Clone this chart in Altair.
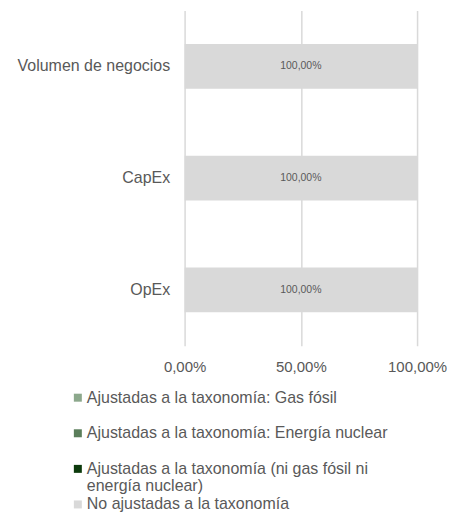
import altair as alt
import pandas as pd

metrics = ["Volumen de negocios", "CapEx", "OpEx"]
categories = [
    "Ajustadas a la taxonomía: Gas fósil",
    "Ajustadas a la taxonomía: Energía nuclear",
    "Ajustadas a la taxonomía (ni gas fósil ni\nenergía nuclear)",
    "No ajustadas a la taxonomía",
]
colors = ["#8ca88c", "#5a7d5a", "#0c3a0c", "#d9d9d9"]

gas_fosil = [0.0, 0.0, 0.0]
energia_nuclear = [0.0, 0.0, 0.0]
ni_gas_ni_nuclear = [0.0, 0.0, 0.0]
no_ajustadas = [1.0, 1.0, 1.0]
tick_values = [0, 0.5, 1]

series = [gas_fosil, energia_nuclear, ni_gas_ni_nuclear, no_ajustadas]
rows = []
for ci, (cat, vals) in enumerate(zip(categories, series)):
    for m, v in zip(metrics, vals):
        rows.append({"metric": m, "cat": cat, "value": v, "order": ci})
df = pd.DataFrame(rows)
leg_df = pd.DataFrame({"cat": categories})

FONT = "Liberation Sans"
color_scale = alt.Scale(domain=categories, range=colors)
fmt = "replace(format(datum.value, '.2%'), '.', ',')"

bars = alt.Chart(df).mark_bar().encode(
    y=alt.Y("metric:N", sort=metrics,
            scale=alt.Scale(paddingInner=0.6, paddingOuter=0.3),
            axis=alt.Axis(title=None, domain=False, ticks=False, grid=False,
                          labelPadding=15, labelFontSize=16, labelColor="#595959",
                          labelFont=FONT)),
    x=alt.X("value:Q", stack="zero",
            scale=alt.Scale(domain=[0, 1], nice=False),
            axis=alt.Axis(title=None, values=tick_values, labelExpr=fmt,
                          domain=False, ticks=False, grid=True, gridColor="#d9d9d9",
                          gridWidth=1.5, labelPadding=14, labelFontSize=15,
                          labelFlush=False, labelOverlap=False,
                          labelColor="#595959", labelFont=FONT)),
    color=alt.Color("cat:N", scale=color_scale, legend=None),
    order=alt.Order("order:Q"),
)

labels = alt.Chart(df).transform_stack(
    stack="value", groupby=["metric"], as_=["v0", "v1"],
    sort=[alt.SortField("order")]
).transform_calculate(
    mid="(datum.v0 + datum.v1) / 2",
    txt="replace(format(datum.value, '.2%'), '.', ',')",
).transform_filter("datum.value > 0").mark_text(
    fontSize=10.5, color="#595959", font=FONT
).encode(
    y=alt.Y("metric:N", sort=metrics),
    x=alt.X("mid:Q"),
    text="txt:N",
)

leg_y = alt.Y("cat:N", sort=categories,
              scale=alt.Scale(type="point", domain=categories, range=[388, 495], padding=0),
              axis=None)

leg_sq = alt.Chart(leg_df).mark_square(size=64, opacity=1).encode(
    y=leg_y,
    x=alt.value(-107),
    color=alt.Color("cat:N", scale=color_scale, legend=None),
)
leg_txt = alt.Chart(leg_df).mark_text(
    align="left", baseline="top", dy=-8, fontSize=16, lineBreak="\n",
    lineHeight=17, color="#595959", font=FONT
).encode(
    y=leg_y,
    x=alt.value(-98),
    text="cat:N",
)

main = alt.layer(bars, labels)
legend = alt.layer(leg_sq, leg_txt)

chart = alt.layer(main, legend).resolve_scale(y="independent").properties(
    width=233, height=336,
    padding={"left": 177, "top": 2, "right": 30, "bottom": 171},
    autosize=alt.AutoSizeParams(type="none"),
).configure_view(stroke=None)

chart.save("out.html", embed_options={"renderer": "svg", "actions": False})
